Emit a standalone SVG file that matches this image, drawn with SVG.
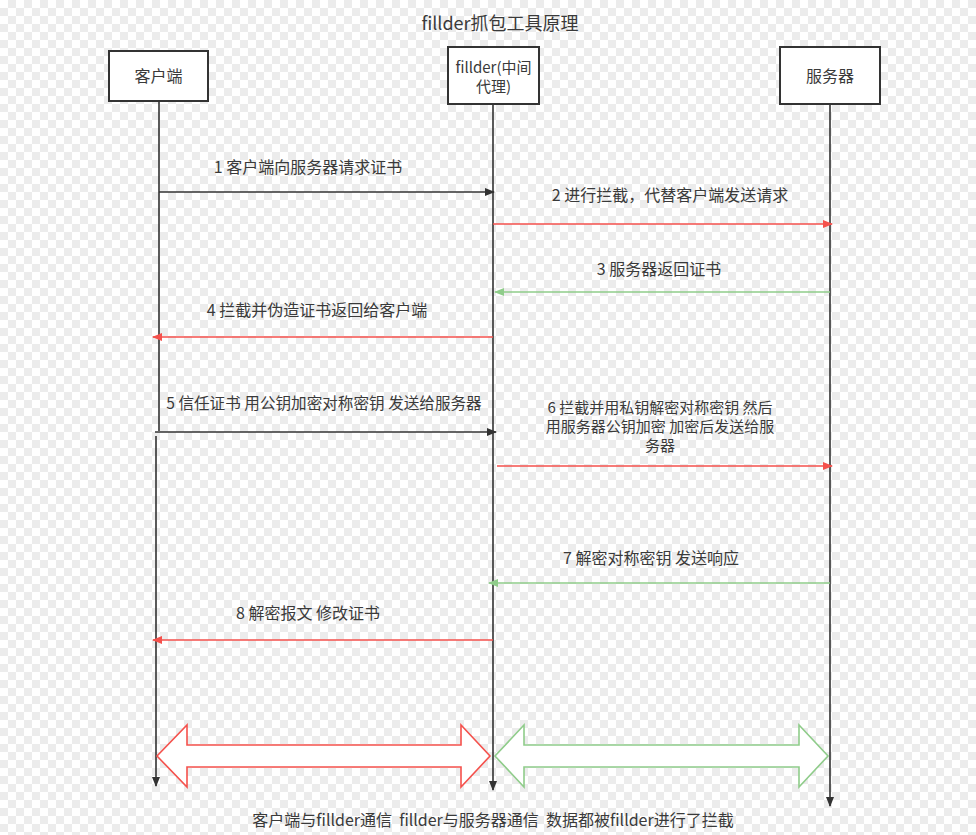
<svg xmlns="http://www.w3.org/2000/svg" width="976" height="835" viewBox="0 0 976 835">
<style>
text{font-family:"Noto Sans CJK SC","Liberation Sans",sans-serif;fill:#3a3a3a;font-size:16px;text-anchor:middle}
.sm{font-size:15px}
.box{fill:#fff;stroke:#333;stroke-width:2}
.life{fill:none;stroke:#333;stroke-width:1.6}
.blk{fill:none;stroke:#333;stroke-width:1.6}
.red{fill:none;stroke:#f5514c;stroke-width:1.6}
.grn{fill:none;stroke:#8fcc8a;stroke-width:1.6}
</style>
<defs>
<pattern id="chk" width="16" height="16" patternUnits="userSpaceOnUse">
<rect width="16" height="16" fill="#fff"/>
<rect x="8" y="0" width="8" height="8" fill="#ececec"/>
<rect x="0" y="8" width="8" height="8" fill="#ececec"/>
</pattern>
<marker id="ab" viewBox="0 0 10 8" refX="9" refY="4" markerWidth="10" markerHeight="8" markerUnits="userSpaceOnUse" orient="auto"><path d="M0,0 L10,4 L0,8 Z" fill="#333"/></marker>
<marker id="ar" viewBox="0 0 10 8" refX="9" refY="4" markerWidth="10" markerHeight="8" markerUnits="userSpaceOnUse" orient="auto"><path d="M0,0 L10,4 L0,8 Z" fill="#f5514c"/></marker>
<marker id="ag" viewBox="0 0 10 8" refX="9" refY="4" markerWidth="10" markerHeight="8" markerUnits="userSpaceOnUse" orient="auto"><path d="M0,0 L10,4 L0,8 Z" fill="#8fcc8a"/></marker>
</defs>
<rect width="976" height="835" fill="url(#chk)"/>
<text x="500" y="30" style="font-size:18px">fillder抓包工具原理</text>

<g id="connectors">
<path class="life" d="M159,101 V431"/>
<path class="life" d="M156,436 V786" marker-end="url(#ab)"/>
<path class="life" d="M493,104 V790" marker-end="url(#ab)"/>
<path class="life" d="M830,104 V806" marker-end="url(#ab)"/>
<path class="blk" d="M159,192 H494" marker-end="url(#ab)"/>
<path class="red" d="M493,224 H832" marker-end="url(#ar)"/>
<path class="grn" d="M830,292 H495" marker-end="url(#ag)"/>
<path class="red" d="M493,337 H153" marker-end="url(#ar)"/>
<path class="blk" d="M155,432 H496" marker-end="url(#ab)"/>
<path class="red" d="M497,466 H832" marker-end="url(#ar)"/>
<path class="grn" d="M830,583 H489" marker-end="url(#ag)"/>
<path class="red" d="M493,640 H153" marker-end="url(#ar)"/>
</g>

<g id="client"><rect class="box" x="109" y="51" width="99" height="50"/><text x="158.5" y="82">客户端</text></g>
<g id="fillder"><rect class="box" x="448" y="47" width="91" height="57"/><text class="sm" x="493.5" y="73">fillder(中间</text><text class="sm" x="493.5" y="92">代理)</text></g>
<g id="server"><rect class="box" x="780" y="47" width="100" height="57"/><text x="830" y="82">服务器</text></g>

<g id="labels">
<text x="308" y="173">1 客户端向服务器请求证书</text>
<text x="670" y="201">2 进行拦截，代替客户端发送请求</text>
<text x="659" y="275">3 服务器返回证书</text>
<text x="317" y="316">4 拦截并伪造证书返回给客户端</text>
<text x="324" y="409" style="font-size:15.6px">5 信任证书 用公钥加密对称密钥 发送给服务器</text>
<text class="sm" x="660" y="413">6 拦截并用私钥解密对称密钥 然后</text>
<text class="sm" x="660" y="432">用服务器公钥加密 加密后发送给服</text>
<text class="sm" x="660" y="451">务器</text>
<text x="651" y="564">7 解密对称密钥 发送响应</text>
<text x="308" y="619">8 解密报文 修改证书</text>
</g>

<g id="arrow-client-fillder"><polygon points="157,756 187,725 187,745 461,745 461,725 490,756 461,787 461,767 187,767 187,787" fill="#fff" stroke="#f5514c" stroke-width="1.6"/></g>
<g id="arrow-fillder-server"><polygon points="495,756 524,725 524,745 799,745 799,725 828,756 799,787 799,767 524,767 524,787" fill="#fff" stroke="#8fcc8a" stroke-width="1.6"/></g>

<text x="493" y="826" xml:space="preserve">客户端与fillder通信  fillder与服务器通信  数据都被fillder进行了拦截</text>
</svg>
